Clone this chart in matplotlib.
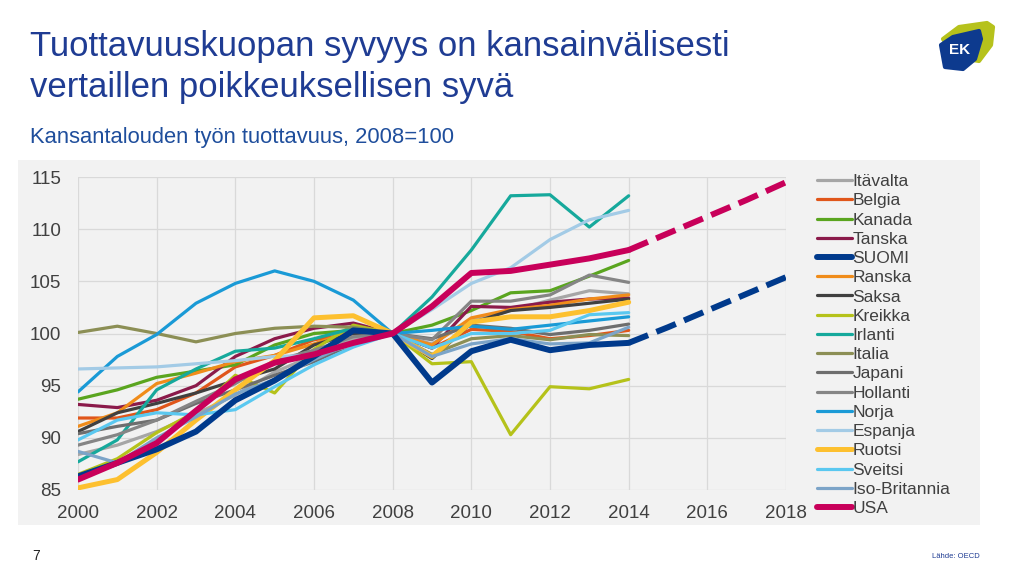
import numpy as np
import matplotlib.pyplot as plt
from matplotlib.patches import Rectangle, Polygon

plt.rcParams['font.family'] = ['Liberation Sans', 'DejaVu Sans']

years = list(range(2000, 2015))
proj_years = [2014, 2015, 2016, 2017, 2018]

countries = ["Itävalta", "Belgia", "Kanada", "Tanska", "SUOMI", "Ranska", "Saksa",
             "Kreikka", "Irlanti", "Italia", "Japani", "Hollanti", "Norja", "Espanja",
             "Ruotsi", "Sveitsi", "Iso-Britannia", "USA"]

itavalta = [88.4, 89.3, 90.6, 92.3, 94.1, 96.3, 97.9, 99.5, 100, 99.0, 101.3, 102.2, 103.2, 104.1, 103.8]
belgia = [91.9, 91.9, 92.7, 94.3, 96.8, 97.9, 99.4, 100.0, 100, 98.6, 100.4, 100.2, 99.5, 99.8, 100.3]
kanada = [93.7, 94.6, 95.8, 96.4, 97.0, 98.9, 100.0, 100.3, 100, 100.8, 102.2, 103.9, 104.1, 105.5, 107.0]
tanska = [93.2, 92.9, 93.6, 95.0, 97.8, 99.5, 100.5, 101.0, 100, 98.6, 102.6, 102.5, 103.0, 103.3, 103.4]
suomi = [86.3, 87.6, 88.9, 90.6, 93.6, 95.5, 97.8, 100.3, 100, 95.3, 98.3, 99.4, 98.4, 98.9, 99.1]
ranska = [91.1, 92.4, 95.2, 96.2, 97.3, 97.9, 99.0, 100.3, 100, 98.9, 101.5, 102.3, 102.7, 103.3, 103.7]
saksa = [90.6, 92.4, 93.3, 94.3, 95.5, 96.6, 98.9, 100.0, 100, 97.6, 101.0, 102.2, 102.5, 102.9, 103.3]
kreikka = [86.5, 88.0, 90.5, 92.5, 96.0, 94.3, 98.5, 100.8, 100, 97.1, 97.3, 90.3, 94.9, 94.7, 95.6]
irlanti = [87.7, 89.8, 94.6, 96.6, 98.3, 98.6, 99.5, 100.5, 100, 103.5, 108.0, 113.2, 113.3, 110.2, 113.2]
italia = [100.1, 100.7, 100.0, 99.2, 100.0, 100.5, 100.7, 100.6, 100, 98.0, 99.5, 99.8, 99.4, 99.9, 99.8]
japani = [90.4, 91.1, 91.7, 93.3, 94.6, 96.0, 97.3, 99.0, 100, 99.5, 100.8, 100.5, 99.9, 100.3, 100.9]
hollanti = [89.3, 90.3, 91.7, 93.5, 95.2, 97.4, 98.4, 99.7, 100, 99.4, 103.1, 103.1, 103.7, 105.6, 104.9]
norja = [94.4, 97.8, 99.9, 102.9, 104.8, 106.0, 105.0, 103.2, 100, 100.3, 100.7, 100.4, 100.8, 101.2, 101.6]
espanja = [96.6, 96.7, 96.8, 97.1, 97.4, 97.8, 97.9, 98.9, 100, 102.3, 104.8, 106.3, 109.0, 110.9, 111.8]
ruotsi = [85.2, 86.0, 88.6, 91.7, 94.6, 97.4, 101.5, 101.7, 100, 97.8, 101.1, 101.6, 101.6, 102.2, 103.0]
sveitsi = [89.8, 91.7, 92.4, 92.2, 92.7, 94.9, 97.0, 98.7, 100, 98.6, 100.0, 100.0, 100.3, 101.8, 102.0]
iso_britannia = [88.7, 87.6, 90.0, 92.0, 94.2, 95.6, 97.5, 99.2, 100, 97.8, 99.0, 99.5, 99.0, 99.1, 100.6]
usa = [86.0, 87.6, 89.5, 92.6, 95.6, 97.2, 98.0, 99.1, 100, 102.6, 105.8, 106.0, 106.6, 107.2, 108.0]

usa_proj = [108.0, 109.6, 111.2, 112.8, 114.5]
suomi_proj = [99.1, 100.6, 102.2, 103.8, 105.4]

series = [itavalta, belgia, kanada, tanska, suomi, ranska, saksa, kreikka, irlanti, italia,
          japani, hollanti, norja, espanja, ruotsi, sveitsi, iso_britannia, usa]
colors = ["#a6a6a6", "#e0561a", "#5aa51f", "#8b1a4a", "#003a8c", "#f08c1a", "#404040",
          "#b5c21a", "#16a99c", "#8c8f55", "#6e6e6e", "#858585", "#1a9ad6", "#a3cbe6",
          "#fdc02f", "#5ac8f0", "#7ca4c8", "#c8005a"]
widths = {"SUOMI": 4.3, "USA": 4.3, "Ruotsi": 3.6}

fig = plt.figure(figsize=(10.24, 5.78), dpi=100)

# grey chart panel behind everything
bg = fig.add_axes([18 / 1024, 1 - 525 / 578, 962 / 1024, 365 / 578], zorder=-5)
bg.set_facecolor("#f2f2f2")
bg.set_xticks([])
bg.set_yticks([])
for s in bg.spines.values():
    s.set_visible(False)

ax = fig.add_axes([78 / 1024, 1 - 490 / 578, 708 / 1024, 313 / 578])
ax.set_facecolor("#f2f2f2")

for i, name in enumerate(countries):
    lw = widths.get(name, 2.3)
    z = 5 if name in ("USA", "SUOMI") else 3
    ax.plot(years, series[i], color=colors[i], lw=lw, label=name, zorder=z,
            solid_capstyle="round", solid_joinstyle="round")

ax.plot(proj_years, usa_proj, color="#c8005a", lw=4.3, dashes=(3.5, 1.5), zorder=5)
ax.plot(proj_years, suomi_proj, color="#003a8c", lw=4.3, dashes=(3.5, 1.5), zorder=5)

ax.set_xlim(2000, 2018)
ax.set_ylim(85, 115)
ax.set_xticks(range(2000, 2019, 2))
ax.set_yticks(range(85, 116, 5))
ax.grid(True, color="#d9d9d9", lw=0.9)
ax.set_axisbelow(True)
for s in ax.spines.values():
    s.set_visible(False)
ax.tick_params(length=0, labelsize=13.5, colors="#404040")
ax.tick_params(axis="x", pad=11)
ax.tick_params(axis="y", pad=12)

leg = ax.legend(loc="upper left", bbox_to_anchor=(817 / 1024, 1 - 174 / 578),
                bbox_transform=fig.transFigure, frameon=False, fontsize=12.5,
                handlelength=2.0, handletextpad=0.05, labelspacing=0.235,
                borderpad=0, borderaxespad=0)
for t in leg.get_texts():
    t.set_color("#404040")

fig.text(30 / 1024, 1 - 30 / 578,
         "Tuottavuuskuopan syvyys on kansainvälisesti\nvertaillen poikkeuksellisen syvä",
         fontsize=25, color="#1f3c93", va="top", ha="left", linespacing=1.3)
fig.text(30 / 1024, 1 - 137 / 578, "Kansantalouden työn tuottavuus, 2008=100",
         fontsize=15.8, color="#1f4e9c", va="center", ha="left")
fig.text(32 / 1024, 1 - 556 / 578, "7", fontsize=10, color="#222222", va="center")
fig.text(980 / 1024, 1 - 556 / 578, "Lähde: OECD", fontsize=5.5, color="#1f3c93",
         va="center", ha="right")

# EK logo
lg = fig.add_axes([935 / 1024, 1 - 75 / 578, 70 / 1024, 55 / 578])
lg.set_xlim(0, 70)
lg.set_ylim(0, 55)
lg.axis("off")
lg.add_patch(Polygon([[8, 36], [24, 48], [52, 52], [58, 48], [56, 30], [44, 14], [20, 18]],
                     closed=True, facecolor="#b6c21c", edgecolor="#b6c21c", lw=3,
                     joinstyle="round"))
lg.add_patch(Polygon([[6, 30], [18, 38], [44, 44], [46, 36], [40, 16], [28, 6], [10, 8]],
                     closed=True, facecolor="#0d3a8e", edgecolor="#0d3a8e", lw=3,
                     joinstyle="round"))
lg.text(25, 25, "EK", color="white", fontsize=11, fontweight="bold",
        ha="center", va="center")

fig.savefig("out.png", dpi=100)
